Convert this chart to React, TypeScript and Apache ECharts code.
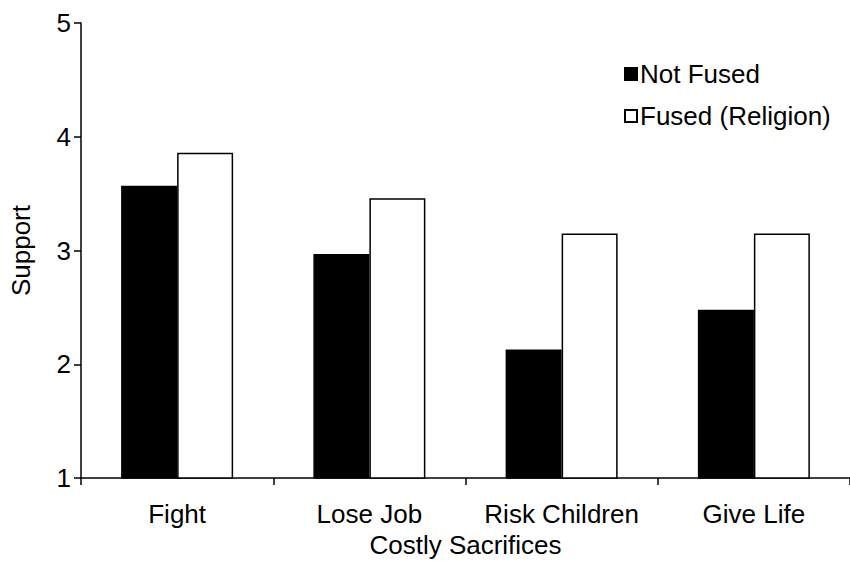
import React, { useEffect, useRef } from "react";
import * as echarts from "echarts";

const categories = ["Fight", "Lose Job", "Risk Children", "Give Life"];
const notFused = [3.57, 2.97, 2.13, 2.48];
const fusedReligion = [3.86, 3.46, 3.15, 3.15];
const seriesNames = ["Not Fused", "Fused (Religion)"];

const FONT = "'Liberation Sans', Arial, sans-serif";
const FS = 26;

export default function App() {
  const ref = useRef<HTMLDivElement>(null);
  useEffect(() => {
    if (!ref.current) return;
    const chart = echarts.init(ref.current, null, { renderer: "svg" });
    chart.setOption({
      animation: false,
      backgroundColor: "#ffffff",
      textStyle: { fontFamily: FONT, color: "#000" },
      grid: { left: 80, top: 23, width: 776, height: 463, containLabel: false },
      legend: {
        orient: "vertical",
        left: 619,
        top: 56,
        itemGap: 16,
        itemWidth: 12,
        itemHeight: 12,
        icon: "rect",
        textStyle: { fontFamily: FONT, fontSize: FS, color: "#000", padding: [0, 0, 0, -2] },
        data: seriesNames,
      },
      xAxis: {
        type: "category",
        data: categories,
        name: "Costly Sacrifices",
        nameLocation: "middle",
        nameGap: 50,
        nameTextStyle: { fontFamily: FONT, fontSize: FS, color: "#000" },
        axisLine: { show: true, lineStyle: { color: "#000", width: 1.5 } },
        axisTick: { show: true, interval: 0, length: 7, lineStyle: { color: "#000", width: 1.5 } },
        axisLabel: { interval: 0, fontFamily: FONT, fontSize: FS, color: "#000", margin: 23 },
        splitLine: { show: false },
      },
      yAxis: {
        type: "value",
        min: 1,
        max: 5,
        interval: 1,
        name: "Support",
        nameLocation: "middle",
        nameGap: 47,
        nameTextStyle: { fontFamily: FONT, fontSize: FS, color: "#000" },
        axisLine: { show: true, lineStyle: { color: "#000", width: 1.5 } },
        axisTick: { show: true, length: 7, lineStyle: { color: "#000", width: 1.5 } },
        axisLabel: { fontFamily: FONT, fontSize: FS, color: "#000", margin: 10 },
        splitLine: { show: false },
      },
      series: [
        {
          name: seriesNames[0],
          type: "bar",
          data: notFused,
          barWidth: 56,
          barGap: "0%",
          itemStyle: { color: "#000", borderColor: "#000", borderWidth: 1.5 },
        },
        {
          name: seriesNames[1],
          type: "bar",
          data: fusedReligion,
          barWidth: 56,
          barGap: "0%",
          itemStyle: { color: "#fff", borderColor: "#000", borderWidth: 1.5 },
        },
      ],
    });
    return () => chart.dispose();
  }, []);
  return <div ref={ref} style={{ width: 850, height: 563, position: "absolute", left: 0, top: 0 }} />;
}
